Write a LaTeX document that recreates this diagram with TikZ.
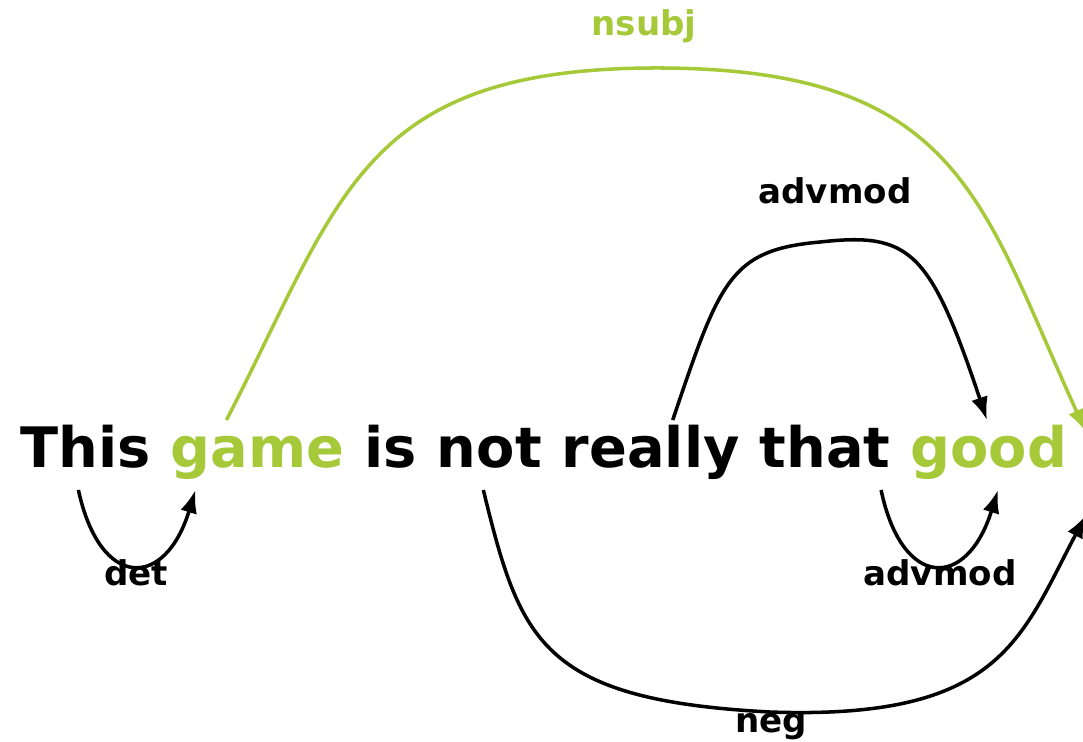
\documentclass[tikz,border=0pt]{standalone}
\usepackage{fontspec}
\newfontfamily\depfont{DejaVu Sans}
\usetikzlibrary{calc}
\usetikzlibrary{positioning}
\usetikzlibrary{arrows.meta}
\definecolor{headgreen}{RGB}{166,201,57}

\begin{document}
\begin{tikzpicture}[x=0.2mm, y=-0.2mm]
    \tikzset{
        word/.style={inner sep=0, anchor=base west, font=\depfont\bfseries\fontsize{31.75pt}{38pt}\selectfont},
        rel/.style={inner sep=0, anchor=base, font=\depfont\bfseries\fontsize{19.4pt}{23pt}\selectfont},
        arc/.style={line width=2pt, -{Latex[length=4.6mm,width=3.4mm]}},
        node distance=3.9mm
    }
    \useasboundingbox (0,0) rectangle (1083,741);

    % the sentence
    \node[word] (this) at (20,467) {This};
    \node[word, base right=of this, text=headgreen] (game) {game};
    \node[word, base right=of game] (is) {is};
    \node[word, base right=of is] (not) {not};
    \node[word, base right=of not] (really) {really};
    \node[word, base right=of really] (that) {that};
    \node[word, base right=of that, text=headgreen] (good) {good};

    % arcs above the words
    \draw[arc, headgreen] ($(game.base)+(-31,-47)$) .. controls (340,200) and (360,70) .. (650,68)
        .. controls (960,66) and (980,200) .. ($(good.base)+(97,-35)$);
    \node[rel, text=headgreen] at (644,35) {nsubj};

    \draw[arc] ($(really.base)+(22,-47)$) .. controls (720,280) and (730,250) .. (820,242)
        .. controls (910,232) and (930,250) .. ($(good.base)+(-2,-47)$);
    \node[rel] at (835,203) {advmod};

    % arcs below the words
    \draw[arc] ($(this.base)+(-7,23)$) .. controls (100,590) and (165,590) .. ($(game.base)+(-62,23)$);
    \node[rel] at (136,585) {det};

    \draw[arc] ($(that.base)+(56,23)$) .. controls (902,590) and (967,590) .. ($(good.base)+(9,23)$);
    \node[rel] at (940,585) {advmod};

    \draw[arc] ($(not.base)+(-6,23)$) .. controls (520,640) and (540,700) .. (770,712)
        .. controls (1000,720) and (1020,640) .. ($(good.base)+(97,48)$);
    \node[rel] at (771,732) {neg};

\end{tikzpicture}
\end{document}
